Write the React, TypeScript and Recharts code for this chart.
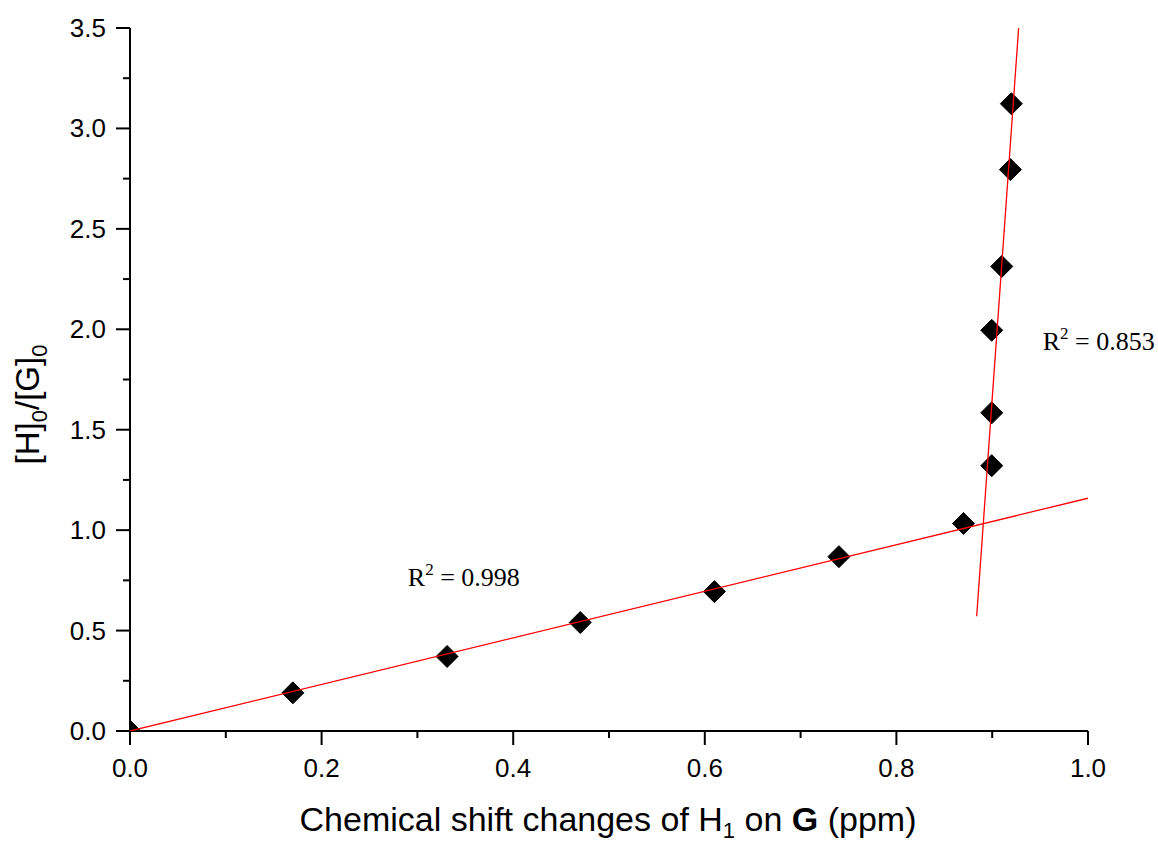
import React from "react";
import { ScatterChart, Scatter, XAxis, YAxis, ReferenceDot, Label } from "recharts";

// Measured points: chemical shift change (ppm) vs [H]0/[G]0
const shiftValues = [0.0, 0.17, 0.331, 0.47, 0.61, 0.74, 0.87, 0.8995, 0.8995, 0.8995, 0.91, 0.919, 0.92];
const ratioValues = [0.0, 0.19, 0.371, 0.54, 0.694, 0.868, 1.033, 1.321, 1.584, 1.995, 2.313, 2.795, 3.123];

// Linear fit lines (end points)
const fit1X = [0.0, 1.0];
const fit1Y = [0.0, 1.159];
const fit2X = [0.8838, 0.9276];
const fit2Y = [0.571, 3.5];

// Annotations
const r2Labels = ["0.998", "0.853"];
const r2X = [0.29, 0.9527];
const r2Y = [0.721, 1.895];

const xTicks = [0, 0.1, 0.2, 0.3, 0.4, 0.5, 0.6, 0.7, 0.8, 0.9, 1.0];
const yTicks = [0, 0.25, 0.5, 0.75, 1.0, 1.25, 1.5, 1.75, 2.0, 2.25, 2.5, 2.75, 3.0, 3.25, 3.5];

const points = shiftValues.map((x, i) => ({ x, y: ratioValues[i] }));
const fit1 = fit1X.map((x, i) => ({ x, y: fit1Y[i] }));
const fit2 = fit2X.map((x, i) => ({ x, y: fit2Y[i] }));

const SANS = "'Liberation Sans', Arial, sans-serif";
const SERIF = "'Liberation Serif', 'Times New Roman', serif";

const XTick = (props: any) => {
  const { x, y, payload } = props;
  const v = payload.value as number;
  const major = Math.round(v * 10) % 2 === 0;
  return (
    <g>
      <line x1={x} y1={y} x2={x} y2={y + (major ? 14 : 7)} stroke="#000" strokeWidth={2} />
      {major && (
        <text x={x} y={y + 46} textAnchor="middle" fontSize={26} fontFamily={SANS} fill="#000">
          {v.toFixed(1)}
        </text>
      )}
    </g>
  );
};

const YTick = (props: any) => {
  const { x, y, payload } = props;
  const v = payload.value as number;
  const major = Math.round(v * 4) % 2 === 0;
  return (
    <g>
      <line x1={x} y1={y} x2={x - (major ? 14 : 7)} y2={y} stroke="#000" strokeWidth={2} />
      {major && (
        <text x={x - 24} y={y + 9} textAnchor="end" fontSize={26} fontFamily={SANS} fill="#000">
          {v.toFixed(1)}
        </text>
      )}
    </g>
  );
};

const XTitle = (props: any) => {
  const { viewBox } = props;
  const cx = viewBox.x + viewBox.width / 2 - 1;
  const by = viewBox.y + 100;
  return (
    <text x={cx} y={by} textAnchor="middle" fontSize={34} fontFamily={SANS} fill="#000">
      <tspan>Chemical shift changes of H</tspan>
      <tspan fontSize={22} dy={7}>1</tspan>
      <tspan dy={-7}> on </tspan>
      <tspan fontWeight="bold">G</tspan>
      <tspan> (ppm)</tspan>
    </text>
  );
};

const YTitle = (props: any) => {
  const { viewBox } = props;
  const cy = viewBox.y + viewBox.height / 2 + 25;
  const bx = 39;
  return (
    <text
      x={bx}
      y={cy}
      transform={`rotate(-90, ${bx}, ${cy})`}
      textAnchor="middle"
      fontSize={33}
      fontFamily={SANS}
      fill="#000"
    >
      <tspan>[H]</tspan>
      <tspan fontSize={22} dy={8}>0</tspan>
      <tspan dy={-8}>/[G]</tspan>
      <tspan fontSize={22} dy={8}>0</tspan>
    </text>
  );
};

const Diamond = (props: any) => {
  const { cx, cy } = props;
  const r = 11;
  return (
    <polygon
      points={`${cx},${cy - r} ${cx + r},${cy} ${cx},${cy + r} ${cx - r},${cy}`}
      fill="#000"
      stroke="#000"
    />
  );
};

const NoShape = () => <g />;

const makeR2Label = (text: string) => (props: any) => {
  const { viewBox } = props;
  const x = viewBox.x + (viewBox.width || 0) / 2;
  const y = viewBox.y + (viewBox.height || 0) / 2;
  return (
    <text x={x} y={y} textAnchor="start" fontSize={26} fontFamily={SERIF} fill="#000">
      <tspan>R</tspan>
      <tspan fontSize={17} dy={-11}>2</tspan>
      <tspan dy={11}>{` = ${text}`}</tspan>
    </text>
  );
};

export default function App() {
  return (
    <div style={{ position: "absolute", left: 0, top: 0, background: "#fff" }}>
      <ScatterChart
        width={1158}
        height={843}
        margin={{ top: 28, right: 70, bottom: 52, left: 30 }}
      >
        <XAxis
          type="number"
          dataKey="x"
          domain={[0, 1]}
          ticks={xTicks}
          allowDataOverflow
          interval={0}
          height={60}
          tickSize={0}
          tickMargin={0}
          tickLine={false}
          axisLine={{ stroke: "#000", strokeWidth: 2 }}
          tick={<XTick />}
        >
          <Label content={<XTitle />} />
        </XAxis>
        <YAxis
          type="number"
          dataKey="y"
          domain={[0, 3.5]}
          ticks={yTicks}
          allowDataOverflow
          interval={0}
          width={100}
          tickSize={0}
          tickMargin={0}
          tickLine={false}
          axisLine={{ stroke: "#000", strokeWidth: 2 }}
          tick={<YTick />}
        >
          <Label content={<YTitle />} />
        </YAxis>
        <Scatter data={points} shape={<Diamond />} isAnimationActive={false} />
        <Scatter
          data={fit1}
          line={{ stroke: "#ff0000", strokeWidth: 1.3 }}
          shape={<NoShape />}
          isAnimationActive={false}
        />
        <Scatter
          data={fit2}
          line={{ stroke: "#ff0000", strokeWidth: 1.3 }}
          shape={<NoShape />}
          isAnimationActive={false}
        />
        {r2Labels.map((t, i) => (
          <ReferenceDot
            key={t}
            x={r2X[i]}
            y={r2Y[i]}
            r={0}
            fill="none"
            stroke="none"
            label={<Label content={makeR2Label(t)} />}
          />
        ))}
      </ScatterChart>
    </div>
  );
}
